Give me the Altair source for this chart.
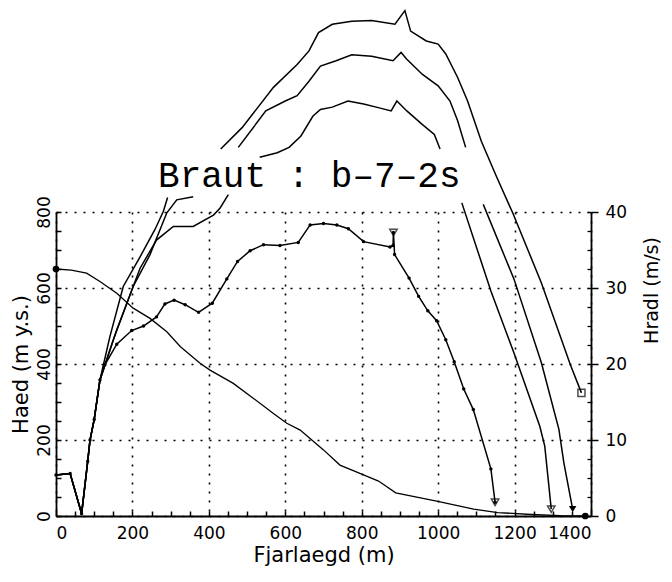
import altair as alt
import pandas as pd

# ---------------- data ----------------
# Elevation profile, Haed (m y.s.) vs distance Fjarlaegd (m)
elev_x = [0, 40, 80, 115, 159, 202, 246, 290, 325, 377, 403, 464, 516, 569, 604, 639,
          674, 700, 743, 800, 844, 889, 996, 1093, 1156, 1244, 1320, 1385]
elev_h = [650, 647, 639, 617, 586, 547, 520, 485, 446, 402, 384, 349, 310, 270, 244, 226,
          196, 174, 134, 110, 92, 61, 39, 18, 9, 4, 1, 0]

# Measured speed, Hradl (m/s), curve with dots
meas_x = [0, 37, 67, 83, 89, 100, 115, 128, 159, 198, 229, 263, 285, 309, 338, 373, 409,
          447, 475, 508, 543, 586, 634, 665, 700, 735, 765, 805, 874, 882, 883, 886, 924,
          949, 973, 996, 1020, 1042, 1067, 1092, 1138, 1149]
meas_v = [5.4, 5.6, 0.3, 7.2, 10.0, 12.7, 17.9, 19.9, 22.6, 24.4, 25.0, 26.2, 27.9, 28.4,
          27.8, 26.8, 28.0, 31.2, 33.5, 34.9, 35.7, 35.6, 36.0, 38.3, 38.5, 38.3, 37.8,
          36.1, 35.4, 35.6, 37.3, 34.4, 31.3, 28.9, 27.0, 25.7, 23.2, 20.3, 16.7, 14.0,
          6.2, 1.8]
shared_until = 115  # the three computed curves share the measured start up to here

# Three computed speed curves (None = gap in the drawn line)
runA_x = [159, 220, 263, 307, 359, 412, 429, 451, None, 533, 579, 610, 641, 672, 692, 723,
          764, 805, 846, 877, 892, 918, 959, 990, 1005, None, 1062, 1138, 1198, 1266, 1279,
          1296]
runA_v = [24.5, 32.6, 36.3, 38.1, 38.1, 39.6, 40.5, 42.3, None, 47.2, 47.8, 48.5, 50.0,
          52.6, 53.5, 53.8, 54.6, 54.2, 53.7, 53.3, 54.6, 53.3, 51.5, 50.2, 48.3, None,
          41.2, 29.6, 21.5, 11.8, 9.2, 0.9]
runB_x = [150, 202, 246, 290, 316, 359, None, 477, 549, 600, 631, 662, 692, 733, 774, 826,
          882, 903, 918, 959, 1000, 1031, 1051, 1072, None, 1118, 1199, 1270, 1316, 1329,
          1352]
runB_v = [23.2, 30.2, 34.4, 39.9, 41.6, 42.0, None, 48.5, 53.3, 54.6, 55.3, 57.2, 59.2,
          59.9, 60.7, 60.5, 59.9, 61.0, 60.1, 58.1, 56.6, 54.6, 52.0, 48.5, None, 41.0,
          31.1, 20.2, 11.4, 7.0, 0.9]
runC_x = [141, 176, 220, 259, 281, 292, None, 431, 487, 569, 631, 662, 687, 723, 774, 826,
          887, 913, 928, 969, 1000, 1020, 1051, 1077, 1113, 1154, 1195, 1270, 1346, 1375]
runC_v = [23.6, 30.2, 34.1, 37.7, 40.1, 41.9, None, 48.3, 51.1, 56.4, 59.4, 61.2, 63.6,
          64.7, 65.1, 65.2, 64.7, 66.5, 63.8, 62.5, 62.1, 60.8, 57.7, 54.6, 49.3, 44.5,
          39.9, 30.7, 19.9, 16.2]

spike_x, spike_v = 883, 37.3  # open marker at top of the measured-curve spike

title_text = "Braut : b\u20137\u20132s"
title_x, title_h = 267, 866

x_ticks = list(range(0, 1401, 200))
x_minor = list(range(0, 1401, 50))
hL_ticks = [0, 200, 400, 600, 800]
hL_minor = list(range(0, 801, 50))
vR_ticks = [0, 10, 20, 30, 40]

# ---------------- build tables ----------------
def rows(name, xs, vs, start=0):
    out, seg = [], 0
    for i, (x, v) in enumerate(zip(xs, vs)):
        if x is None:
            seg += 1
            continue
        out.append({"curve": name, "seg": f"{name}{seg}", "x": x, "v": v, "i": start + i})
    return out

prefix_x = [x for x in meas_x if x <= shared_until]
prefix_v = meas_v[:len(prefix_x)]
speed_rows = rows("M", meas_x, meas_v)
speed_rows += rows("A", prefix_x + runA_x, prefix_v + runA_v)
speed_rows += rows("B", prefix_x + runB_x, prefix_v + runB_v)
speed_rows += rows("C", prefix_x + runC_x, prefix_v + runC_v)
speed_df = pd.DataFrame(speed_rows)
meas_df = speed_df[speed_df.curve == "M"]

elev_df = pd.DataFrame({"x": elev_x, "h": elev_h, "i": range(len(elev_x))})
elev_ends = pd.DataFrame({"x": [elev_x[0], elev_x[-1]], "h": [elev_h[0], elev_h[-1]]})

ends_open_tri = pd.DataFrame({"x": [meas_x[-1], runA_x[-1], spike_x],
                              "v": [meas_v[-1], runA_v[-1], spike_v]})
ends_fill_tri = pd.DataFrame({"x": [runB_x[-1]], "v": [runB_v[-1]]})
ends_square = pd.DataFrame({"x": [runC_x[-1]], "v": [runC_v[-1]]})
title_df = pd.DataFrame({"x": [title_x], "h": [title_h], "t": [title_text]})

# ---------------- styling ----------------
W, H = 535, 304
FONT = "DejaVu Sans"
MONO = "Liberation Mono"
INK = "black"
xs = alt.Scale(domain=[0, 1400], nice=False, zero=False)
yL = alt.Scale(domain=[0, 800], nice=False, zero=False)
yR = alt.Scale(domain=[0, 40], nice=False, zero=False)
dots = [2, 7]

x_axis = alt.Axis(values=x_ticks, format="d", title="Fjarlaegd (m)", grid=True,
                  gridColor=INK, gridDash=dots, gridWidth=1.6, gridOpacity=1,
                  ticks=False, tickSize=0, domainColor=INK, domainWidth=1.8,
                  labelFont=FONT, labelFontSize=17, labelColor=INK, labelPadding=9,
                  labelBaseline="top", labelFlush=True, titleFont=FONT, titleFontSize=21,
                  titleFontWeight="normal", titleColor=INK, titleY=45,
                  titleBaseline="alphabetic")
yL_axis = alt.Axis(orient="left", values=hL_ticks, format="d", title="Haed (m y.s.)",
                   grid=True, gridColor=INK, gridDash=dots, gridWidth=1.6, gridOpacity=1,
                   ticks=False, tickSize=0, domainColor=INK, domainWidth=1.8,
                   labelFont=FONT, labelFontSize=17, labelColor=INK, labelAngle=270,
                   labelAlign="center", labelBaseline="alphabetic", labelPadding=7,
                   labelFlush=False, titleFont=FONT, titleFontSize=21,
                   titleFontWeight="normal", titleColor=INK, titleAngle=270,
                   titleX=-29, titleY=H / 2, titleAlign="center",
                   titleBaseline="alphabetic")
yR_axis = alt.Axis(orient="right", values=vR_ticks, format="d", title="Hradl (m/s)",
                   grid=False, ticks=True, tickSize=7, tickWidth=1.5, tickColor=INK,
                   domainColor=INK, domainWidth=1.8, labelFont=FONT, labelFontSize=17,
                   labelColor=INK, labelAlign="left", labelBaseline="middle",
                   labelPadding=7, labelFlush=False, titleFont=FONT, titleFontSize=19,
                   titleFontWeight="normal", titleColor=INK, titleAngle=270,
                   titleX=66, titleY=78, titleAlign="center", titleBaseline="alphabetic")

X = alt.X("x:Q", scale=xs, axis=x_axis)
Xn = alt.X("x:Q", scale=xs, axis=None)

# ---- left-scale group: elevation + title ----
elev_line = alt.Chart(elev_df).mark_line(color=INK, strokeWidth=1.3).encode(
    x=X, y=alt.Y("h:Q", scale=yL, axis=yL_axis), order="i:Q")
elev_pts = alt.Chart(elev_ends).mark_point(filled=True, color=INK, size=45, opacity=1).encode(
    x=X, y=alt.Y("h:Q", scale=yL, axis=yL_axis))
title_mark = alt.Chart(title_df).mark_text(
    align="left", baseline="alphabetic", font=MONO, fontSize=36,
    color=INK).encode(x=X, y=alt.Y("h:Q", scale=yL, axis=yL_axis), text="t:N")
left_group = alt.layer(elev_line, elev_pts, title_mark)

# ---- right-scale group: speeds ----
YR = alt.Y("v:Q", scale=yR, axis=yR_axis)
speed_lines = alt.Chart(speed_df).mark_line(color=INK, strokeWidth=1.5).encode(
    x=Xn, y=YR, detail="seg:N", order="i:Q")
meas_dots = alt.Chart(meas_df).mark_point(filled=True, color=INK, size=12, opacity=1).encode(
    x=Xn, y=YR)
m_open = alt.Chart(ends_open_tri).mark_point(shape="triangle-down", filled=False, color=INK,
                                             size=55, strokeWidth=1.5).encode(x=Xn, y=YR)
m_fill = alt.Chart(ends_fill_tri).mark_point(shape="triangle-down", filled=True, color=INK,
                                             size=55, opacity=1).encode(x=Xn, y=YR)
m_sq = alt.Chart(ends_square).mark_point(shape="square", filled=False, color=INK,
                                         size=50, strokeWidth=1.5).encode(x=Xn, y=YR)
right_group = alt.layer(speed_lines, meas_dots, m_open, m_fill, m_sq)

# ---- inward minor ticks (left edge, bottom edge, right edge) ----
ticks_in_1 = alt.Chart(elev_df).mark_point(opacity=0).encode(
    x=alt.X("x:Q", scale=xs, axis=alt.Axis(orient="top", offset=-H, values=x_minor,
                                           labels=False, domain=False, grid=False,
                                           ticks=True, tickSize=5, tickWidth=1.5,
                                           tickColor=INK, title=None)),
    y=alt.Y("h:Q", scale=yL, axis=alt.Axis(orient="right", offset=-W, values=hL_minor,
                                           labels=False, domain=False, grid=False,
                                           ticks=True, tickSize=5, tickWidth=1.5,
                                           tickColor=INK, title=None)))
ticks_in_2 = alt.Chart(elev_df).mark_point(opacity=0).encode(
    x=Xn,
    y=alt.Y("h:Q", scale=yL, axis=alt.Axis(orient="left", offset=-W, values=hL_minor,
                                           labels=False, domain=False, grid=False,
                                           ticks=True, tickSize=4, tickWidth=1.3,
                                           tickColor=INK, title=None)))

chart = alt.layer(left_group, right_group, ticks_in_1, ticks_in_2).resolve_scale(
    x="independent", y="independent"
).properties(
    width=W, height=H,
    autosize=alt.AutoSizeParams(type="none"),
    padding={"left": 48, "top": 204, "right": 73, "bottom": 58},
    background="white",
).configure_view(stroke=None)

chart.save("out.html", embed_options={"renderer": "svg", "actions": False})
